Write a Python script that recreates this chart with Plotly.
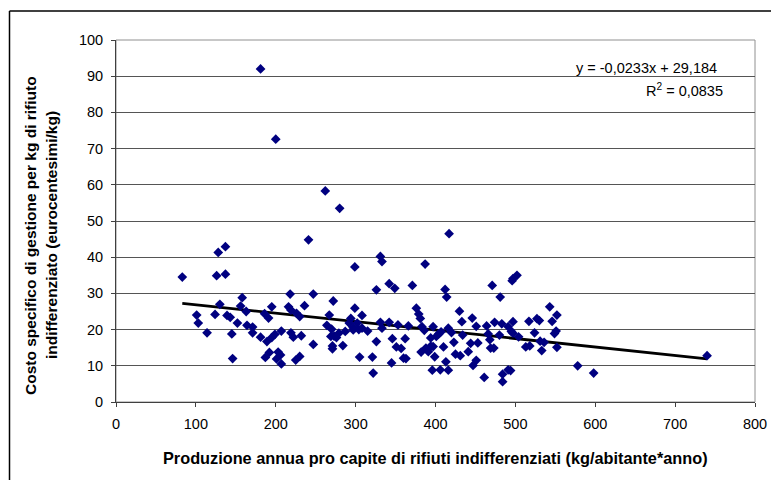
import plotly.graph_objects as go

# Data
produzione = [83, 181, 200, 262, 280, 241, 417, 128, 137, 126, 137, 331, 333, 299, 387, 502, 497, 496,
              326, 342, 349, 371, 412, 414, 471, 481, 218, 247, 272, 158, 130, 156, 163, 124, 139, 143,
              101, 103, 114, 145, 146, 152, 164, 171, 171, 181, 186, 191, 195, 189, 195, 199, 207, 187,
              192, 201, 203, 206, 207, 216, 219, 219, 222, 226, 230, 232, 225, 230, 236, 247, 264, 267,
              269, 271, 271, 270, 273, 276, 279, 284, 287, 292, 294, 297, 297, 299, 302, 304, 308, 308,
              315, 305, 321, 322, 326, 331, 333, 342, 346, 345, 351, 353, 357, 360, 362, 363, 366, 376,
              379, 381, 383, 382, 386, 388, 391, 394, 394, 396, 397, 397, 399, 401, 404, 406, 407, 410,
              413, 416, 416, 420, 423, 425, 431, 430, 433, 434, 441, 444, 446, 447, 451, 451, 453, 461,
              464, 466, 468, 469, 473, 474, 480, 483, 484, 484, 491, 494, 491, 497, 495, 497, 504, 513,
              518, 517, 524, 527, 530, 531, 533, 536, 543, 546, 549, 551, 552, 552, 578, 598, 740]
costo = [34.5, 92, 72.6, 58.3, 53.5, 44.8, 46.5, 41.3, 42.9, 34.9, 35.3, 40.2, 38.8, 37.3, 38.1, 35, 34.1, 33.5,
         31, 32.7, 31.4, 32.2, 31.1, 29, 32.2, 29, 29.8, 29.8, 27.9, 28.8, 27, 26.5, 25, 24.2, 23.9, 23.4,
         24, 21.8, 19.1, 18.8, 12, 21.8, 21.2, 20.7, 19.1, 17.9, 24.4, 23.2, 26.3, 16.7, 17.8, 18.7, 19.6, 12.3,
         13.7, 11.9, 13.8, 13, 10.5, 26.3, 25.4, 19.1, 17.9, 24.5, 23.6, 18.3, 11.6, 12.6, 26.6, 15.9, 21.2, 24,
         18.1, 14.7, 15.5, 20.1, 18.2, 17.8, 19, 15.6, 19.5, 21.8, 23.1, 19.9, 20.5, 25.9, 21.8, 20, 23.9, 20.4,
         19.6, 12.4, 12.4, 8, 16.7, 22, 20.4, 22, 17.5, 10.8, 15.2, 21.3, 14.8, 12.1, 17.5, 12, 21, 25.9,
         24.3, 23.1, 20.8, 13.8, 19.8, 14.9, 13.9, 15.4, 17.7, 8.8, 20.8, 15.3, 12.5, 18.1, 18.8, 8.9, 19.4, 15.2,
         11.1, 8.8, 20.4, 19.2, 16.5, 13.2, 12.8, 25.1, 22.2, 18.5, 13.9, 16.2, 23.2, 10.1, 11.5, 20.9, 16.3, 6.8,
         21, 18.8, 17.2, 14.9, 14.9, 22, 18.5, 21.6, 7.7, 5.6, 8.9, 8.7, 20.8, 22.2, 19.5, 19, 18, 15.2,
         15.5, 22.3, 19.1, 23, 22.5, 16.8, 14.2, 16.5, 26.3, 22.3, 18.9, 19.6, 24, 15.1, 10, 8, 12.8]

slope = -0.0233
intercept = 29.184
equation_text = "y = -0,0233x + 29,184"
r2_text = "R<sup>2</sup> = 0,0835"

x_title = "Produzione annua pro capite di rifiuti indifferenziati (kg/abitante*anno)"
y_title_1 = "Costo specifico di gestione per kg di rifiuto"
y_title_2 = "indifferenziato (eurocentesimi/kg)"

trend_x = [min(produzione), max(produzione)]
trend_y = [slope * v + intercept for v in trend_x]

FONT = "Liberation Sans, Arial, sans-serif"
TITLE_SIZE = 15.5
XTITLE_SIZE = 16.3
TICK_SIZE = 14.5

W, H = 771, 480
L, R, T, B = 116, 16, 40, 78
PW, PH = W - L - R, H - T - B

fig = go.Figure()
fig.add_trace(go.Scatter(
    x=trend_x, y=trend_y, mode="lines",
    line=dict(color="black", width=2.8), hoverinfo="skip", showlegend=False))
fig.add_trace(go.Scatter(
    x=produzione, y=costo, mode="markers",
    marker=dict(symbol="diamond", size=7.5, color="#000080", line=dict(width=0)),
    showlegend=False))

def px_x(p):
    return (p - L) / PW

def px_y(p):
    return (H - B - p) / PH

fig.update_layout(
    width=W, height=H,
    autosize=False,
    margin=dict(l=L, r=R, t=T, b=B, pad=0, autoexpand=False),
    paper_bgcolor="white", plot_bgcolor="white",
    font=dict(family=FONT, size=TICK_SIZE, color="black"),
    showlegend=False,
    xaxis=dict(range=[0, 800], dtick=100, tick0=0, showgrid=False, zeroline=False,
               showline=True, linecolor="#404040", linewidth=1, automargin=False,
               ticks="outside", ticklen=4, tickcolor="#404040", ticklabelstandoff=5,
               tickfont=dict(size=TICK_SIZE)),
    yaxis=dict(range=[0, 100], dtick=10, tick0=0, showgrid=True, gridcolor="#555555", gridwidth=1,
               zeroline=False, showline=True, linecolor="#404040", linewidth=1, automargin=False,
               ticks="outside", ticklen=4, tickcolor="#404040", ticklabelstandoff=5,
               tickfont=dict(size=TICK_SIZE)),
    shapes=[
        dict(type="rect", xref="paper", yref="paper", x0=0, x1=1, y0=0, y1=1,
             line=dict(color="#909090", width=1), layer="below"),
        dict(type="line", xref="paper", yref="paper",
             x0=px_x(9.5), x1=px_x(W), y0=px_y(11), y1=px_y(11),
             line=dict(color="black", width=1.5)),
        dict(type="line", xref="paper", yref="paper",
             x0=px_x(9.5), x1=px_x(9.5), y0=px_y(11), y1=px_y(H),
             line=dict(color="black", width=1.5)),
    ],
    annotations=[
        dict(text="<b>" + x_title + "</b>", xref="paper", yref="paper", x=px_x(435), y=px_y(458),
             showarrow=False, font=dict(size=XTITLE_SIZE, family=FONT), xanchor="center", yanchor="middle"),
        dict(text="<b>" + y_title_1 + "</b>", xref="paper", yref="paper",
             x=px_x(31), y=px_y(236), textangle=-90, showarrow=False,
             font=dict(size=TITLE_SIZE, family=FONT), xanchor="center", yanchor="middle"),
        dict(text="<b>" + y_title_2 + "</b>", xref="paper", yref="paper",
             x=px_x(51), y=px_y(235), textangle=-90, showarrow=False,
             font=dict(size=TITLE_SIZE, family=FONT), xanchor="center", yanchor="middle"),
        dict(text=equation_text, xref="paper", yref="paper",
             x=px_x(719), y=px_y(68), showarrow=False,
             font=dict(size=TICK_SIZE, family=FONT), xanchor="right", yanchor="middle"),
        dict(text=r2_text, xref="paper", yref="paper",
             x=px_x(684), y=px_y(90), showarrow=False,
             font=dict(size=TICK_SIZE, family=FONT), xanchor="center", yanchor="middle"),
    ],
)

fig.write_html("out.html")
